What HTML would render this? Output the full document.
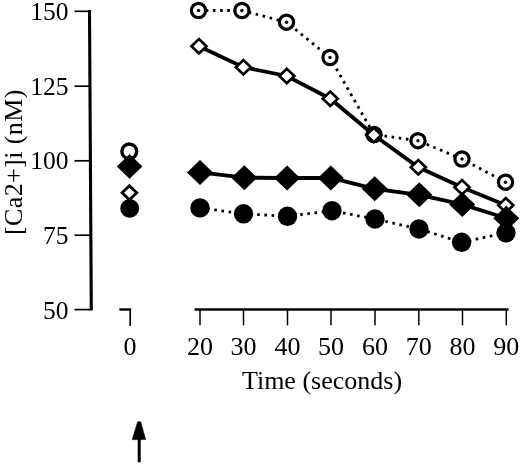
<!DOCTYPE html>
<html><head><meta charset="utf-8"><title>Chart</title>
<style>html,body{margin:0;padding:0;background:#fff;}body{width:520px;height:464px;overflow:hidden;}</style>
</head><body>
<svg width="520" height="464" viewBox="0 0 520 464" style="display:block">
<rect width="520" height="464" fill="#fff"/>
<g stroke="#000" stroke-width="2.4" fill="none" stroke-linecap="butt">
<path d="M89.5,10 L91.3,310.6" stroke-width="3.1"/>
<path d="M74.5,11.3 L90,11.3" stroke-width="1.7"/>
<path d="M74.5,86.2 L90,86.2" stroke-width="1.7"/>
<path d="M74.5,160.8 L90,160.8" stroke-width="1.7"/>
<path d="M74.5,235.2 L90,235.2" stroke-width="1.7"/>
<path d="M74.5,309.6 L90,309.6" stroke-width="1.7"/>
<path d="M119.3,309.5 L131.2,309.5" stroke-width="2.4"/><path d="M130.2,309 L130.2,326" stroke-width="1.7"/>
<path d="M194.6,309.4 L508.5,309.4" stroke-width="2.5"/>
<path d="M200,309 L200,325.3" stroke-width="1.5"/>
<path d="M243.5,309 L243.5,325.3" stroke-width="1.5"/>
<path d="M287.5,309 L287.5,325.3" stroke-width="1.5"/>
<path d="M331,309 L331,325.3" stroke-width="1.5"/>
<path d="M375,309 L375,325.3" stroke-width="1.5"/>
<path d="M418.8,309 L418.8,325.3" stroke-width="1.5"/>
<path d="M462.5,309 L462.5,325.3" stroke-width="1.5"/>
<path d="M506.3,309 L506.3,325.3" stroke-width="1.5"/>
</g>
<polyline points="200.0,207.9 243.5,213.8 287.5,216.3 332.0,210.7 375.0,219.0 419.0,229.0 461.6,242.3 506.0,232.8" fill="none" stroke="#000" stroke-width="2.8" stroke-dasharray="2.6 4.6"/>
<circle cx="200" cy="207.9" r="9.7" fill="#000"/>
<circle cx="243.5" cy="213.8" r="9.7" fill="#000"/>
<circle cx="287.5" cy="216.3" r="9.7" fill="#000"/>
<circle cx="332" cy="210.7" r="9.7" fill="#000"/>
<circle cx="375" cy="219" r="9.7" fill="#000"/>
<circle cx="419" cy="229" r="9.7" fill="#000"/>
<circle cx="461.6" cy="242.3" r="9.7" fill="#000"/>
<circle cx="506" cy="232.8" r="9.7" fill="#000"/>
<polyline points="198.5,10.5 241.9,10.5 286.5,22.2 330.0,57.5 374.0,134.5 418.0,140.7 462.0,159.0 505.5,182.2" fill="none" stroke="#000" stroke-width="2.8" stroke-dasharray="2.6 4.6"/>
<circle cx="198.5" cy="10.5" r="7.1" fill="#fff" stroke="#000" stroke-width="3.2"/>
<circle cx="198.5" cy="10.5" r="1.7" fill="#000"/>
<circle cx="241.9" cy="10.5" r="7.1" fill="#fff" stroke="#000" stroke-width="3.2"/>
<circle cx="241.9" cy="10.5" r="1.7" fill="#000"/>
<circle cx="286.5" cy="22.2" r="7.1" fill="#fff" stroke="#000" stroke-width="3.2"/>
<circle cx="286.5" cy="22.2" r="1.7" fill="#000"/>
<circle cx="330" cy="57.5" r="7.1" fill="#fff" stroke="#000" stroke-width="3.2"/>
<circle cx="330" cy="57.5" r="1.7" fill="#000"/>
<circle cx="374" cy="134.5" r="7.1" fill="#fff" stroke="#000" stroke-width="3.2"/>
<circle cx="374" cy="134.5" r="1.7" fill="#000"/>
<circle cx="418" cy="140.7" r="7.1" fill="#fff" stroke="#000" stroke-width="3.2"/>
<circle cx="418" cy="140.7" r="1.7" fill="#000"/>
<circle cx="462" cy="159" r="7.1" fill="#fff" stroke="#000" stroke-width="3.2"/>
<circle cx="462" cy="159" r="1.7" fill="#000"/>
<circle cx="505.5" cy="182.2" r="7.1" fill="#fff" stroke="#000" stroke-width="3.2"/>
<circle cx="505.5" cy="182.2" r="1.7" fill="#000"/>
<polyline points="199.0,46.3 243.4,67.2 286.8,76.0 330.3,98.7 373.8,135.0 418.3,167.3 462.0,187.3 505.8,205.2" fill="none" stroke="#000" stroke-width="3.8"/>
<polygon points="191.5,46.3 199.0,39.1 206.5,46.3 199.0,53.5" fill="#fff" stroke="#000" stroke-width="2.7"/>
<polygon points="235.9,67.2 243.4,60.0 250.9,67.2 243.4,74.4" fill="#fff" stroke="#000" stroke-width="2.7"/>
<polygon points="279.3,76.0 286.8,68.8 294.3,76.0 286.8,83.2" fill="#fff" stroke="#000" stroke-width="2.7"/>
<polygon points="322.8,98.7 330.3,91.5 337.8,98.7 330.3,105.9" fill="#fff" stroke="#000" stroke-width="2.7"/>
<polygon points="366.3,135.0 373.8,127.8 381.3,135.0 373.8,142.2" fill="#fff" stroke="#000" stroke-width="2.7"/>
<polygon points="410.8,167.3 418.3,160.1 425.8,167.3 418.3,174.5" fill="#fff" stroke="#000" stroke-width="2.7"/>
<polygon points="454.5,187.3 462.0,180.1 469.5,187.3 462.0,194.5" fill="#fff" stroke="#000" stroke-width="2.7"/>
<polygon points="498.3,205.2 505.8,198.0 513.3,205.2 505.8,212.4" fill="#fff" stroke="#000" stroke-width="2.7"/>
<polyline points="200.0,172.4 244.3,177.7 287.1,178.0 330.8,178.0 374.7,188.8 419.3,194.8 462.2,204.4 506.3,218.3" fill="none" stroke="#000" stroke-width="3.8"/>
<polygon points="187.0,172.4 200.0,159.9 213.0,172.4 200.0,184.9" fill="#000"/>
<polygon points="231.3,177.7 244.3,165.2 257.3,177.7 244.3,190.2" fill="#000"/>
<polygon points="274.1,178.0 287.1,165.5 300.1,178.0 287.1,190.5" fill="#000"/>
<polygon points="317.8,178.0 330.8,165.5 343.8,178.0 330.8,190.5" fill="#000"/>
<polygon points="361.7,188.8 374.7,176.3 387.7,188.8 374.7,201.3" fill="#000"/>
<polygon points="406.3,194.8 419.3,182.3 432.3,194.8 419.3,207.3" fill="#000"/>
<polygon points="449.2,204.4 462.2,191.9 475.2,204.4 462.2,216.9" fill="#000"/>
<polygon points="493.3,218.3 506.3,205.8 519.3,218.3 506.3,230.8" fill="#000"/>
<circle cx="129.3" cy="151.4" r="7.4" fill="#fff" stroke="#000" stroke-width="3.4"/>
<polygon points="116.8,166.4 129.6,154.0 142.4,166.4 129.6,178.8" fill="#000"/>
<circle cx="129.7" cy="208.4" r="9.4" fill="#000"/>
<polygon points="122.1,192.8 129.4,185.8 136.7,192.8 129.4,199.8" fill="#fff" stroke="#000" stroke-width="2.8"/>
<g font-family="'Liberation Serif', serif" font-size="26" fill="#000">
<text x="68.6" y="20.3" text-anchor="end" font-size="25.5">150</text>
<text x="68.6" y="94.8" text-anchor="end" font-size="25.5">125</text>
<text x="68.6" y="169.4" text-anchor="end" font-size="25.5">100</text>
<text x="68.6" y="244.1" text-anchor="end" font-size="25.5">75</text>
<text x="68.6" y="318.8" text-anchor="end" font-size="25.5">50</text>
<text x="130" y="354.7" text-anchor="middle">0</text>
<text x="200" y="354.7" text-anchor="middle">20</text>
<text x="243.5" y="354.7" text-anchor="middle">30</text>
<text x="287.5" y="354.7" text-anchor="middle">40</text>
<text x="331" y="354.7" text-anchor="middle">50</text>
<text x="375" y="354.7" text-anchor="middle">60</text>
<text x="418.8" y="354.7" text-anchor="middle">70</text>
<text x="462.5" y="354.7" text-anchor="middle">80</text>
<text x="506.3" y="354.7" text-anchor="middle">90</text>
<text x="322" y="388.5" text-anchor="middle">Time (seconds)</text>
<text transform="translate(21.8,162.2) rotate(-90)" text-anchor="middle" letter-spacing="0.4">[Ca2+]i (nM)</text>
</g>
<path d="M139.2,462.3 L139.2,438" stroke="#000" stroke-width="3" fill="none"/>
<polygon points="137.7,421.8 140.7,421.8 145.6,439.6 132.2,439.6" fill="#000" stroke="#000" stroke-width="0.6" stroke-linejoin="round"/>
</svg>
</body></html>
